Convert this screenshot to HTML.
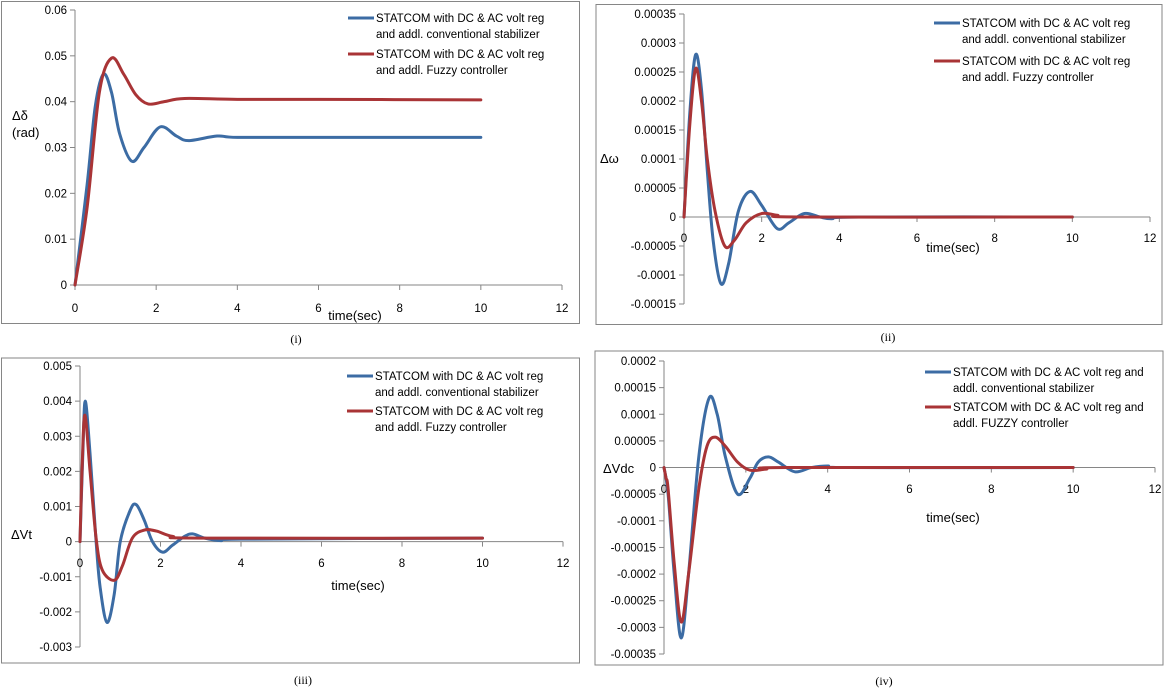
<!DOCTYPE html>
<html><head><meta charset="utf-8">
<style>
html,body{margin:0;padding:0;background:#fff;}
svg{display:block;font-family:"Liberation Sans",sans-serif;}
</style></head>
<body>
<svg id="fig" width="1170" height="696" viewBox="0 0 1170 696"></svg>
<script>
// ---- data ----
const xTicks = [0,2,4,6,8,10,12];
const p1Time = [0,0.3,0.5,0.7,0.9,1.1,1.4,1.7,2.1,2.5,2.8,3.5,4,6,10];
const p1Blue = [0,0.022,0.039,0.046,0.042,0.033,0.027,0.030,0.0345,0.0325,0.0315,0.0325,0.0322,0.0322,0.0322];
const p1RedTime = [0,0.3,0.6,0.9,1.2,1.5,1.8,2.2,2.7,4,6,10];
const p1Red = [0,0.017,0.042,0.0495,0.046,0.0415,0.0395,0.0400,0.0407,0.0405,0.0405,0.0404];
const p1YTicks = [0,0.01,0.02,0.03,0.04,0.05,0.06];

const p2Time = [0,0.15,0.3,0.45,0.6,0.75,0.95,1.15,1.4,1.7,2.0,2.4,2.7,3.1,3.5,3.8,4.5,10];
const p2Blue = [0,0.00018,0.00028,0.00022,0.00008,-0.00004,-0.000115,-0.00008,0.00001,0.000044,0.00002,-0.00002,-0.00001,0.000006,0,-0.000003,0,0];
const p2RedTime = [0,0.15,0.3,0.45,0.6,0.8,1.05,1.3,1.6,2.0,2.4,3,10];
const p2Red = [0,0.00016,0.000256,0.0002,0.0001,0.00001,-0.00005,-0.00004,-0.00001,0.000006,0.000003,0,0];
const p2YTicks = [-0.00015,-0.0001,-0.00005,0,0.00005,0.0001,0.00015,0.0002,0.00025,0.0003,0.00035];
const p2YLabels = ["-0.00015","-0.0001","-0.00005","0","0.00005","0.0001","0.00015","0.0002","0.00025","0.0003","0.00035"];

const p3Time = [0,0.07,0.13,0.25,0.4,0.5,0.67,0.85,1.0,1.25,1.4,1.6,1.8,2.05,2.3,2.6,2.8,3.1,3.5,4,10];
const p3Blue = [0,0.0025,0.004,0.0025,0,-0.0013,-0.0023,-0.0015,0,0.0009,0.00105,0.0006,0,-0.0003,-0.0001,0.00015,0.00022,0.0001,0.00003,0.00007,0.0001];
const p3RedTime = [0,0.05,0.12,0.25,0.4,0.55,0.85,1.05,1.3,1.6,1.9,2.3,3,10];
const p3Red = [0,0.002,0.0036,0.002,0.0001,-0.0008,-0.0011,-0.0007,0.0001,0.00033,0.0003,0.00015,0.0001,0.0001];
const p3YTicks = [-0.003,-0.002,-0.001,0,0.001,0.002,0.003,0.004,0.005];
const p3YLabels = ["-0.003","-0.002","-0.001","0","0.001","0.002","0.003","0.004","0.005"];

const p4Time = [0,0.1,0.25,0.42,0.6,0.85,1.1,1.3,1.5,1.8,2.1,2.3,2.55,2.8,3.2,3.6,4,4.5,10];
const p4Blue = [0,-0.00005,-0.0002,-0.00032,-0.0002,0.00002,0.00013,0.0001,0.00002,-0.00005,-0.00002,0.00001,0.00002,0.00001,-0.000008,0,0.000003,0,0];
const p4RedTime = [0,0.05,0.1,0.25,0.42,0.6,0.85,1.05,1.25,1.5,1.8,2.1,2.5,3,10];
const p4Red = [0,-0.00002,-0.00004,-0.00018,-0.00029,-0.0002,-0.00004,0.00004,0.000057,0.00004,0.00001,-0.000005,-0.000003,0,0];
const p4YTicks = [-0.00035,-0.0003,-0.00025,-0.0002,-0.00015,-0.0001,-0.00005,0,0.00005,0.0001,0.00015,0.0002];
const p4YLabels = ["-0.00035","-0.0003","-0.00025","-0.0002","-0.00015","-0.0001","-0.00005","0","0.00005","0.0001","0.00015","0.0002"];

const NS="http://www.w3.org/2000/svg";
const svg=document.getElementById('fig');
const BLUE='#3c6ca4', RED='#a93436';
function mk(tag,attrs,parent,text){const e=document.createElementNS(NS,tag);for(const k in attrs)e.setAttribute(k,attrs[k]);if(text!==undefined)e.textContent=text;(parent||svg).appendChild(e);return e;}
function smooth(pts){let d=`M${pts[0][0]},${pts[0][1]}`;for(let i=0;i<pts.length-1;i++){const p0=pts[Math.max(0,i-1)],p1=pts[i],p2=pts[i+1],p3=pts[Math.min(pts.length-1,i+2)];const c1x=p1[0]+(p2[0]-p0[0])/6,c1y=p1[1]+(p2[1]-p0[1])/6,c2x=p2[0]-(p3[0]-p1[0])/6,c2y=p2[1]-(p3[1]-p1[1])/6;d+=` C${c1x.toFixed(2)},${c1y.toFixed(2)} ${c2x.toFixed(2)},${c2y.toFixed(2)} ${p2[0]},${p2[1]}`;}return d;}

function panel(o){
  const g=mk('g',{});
  
  
  const fr=mk('rect',{x:o.fx,y:o.fy,width:o.fw,height:o.fh,fill:'#fff',stroke:'#868686','stroke-width':1},g);
  
  const yMin=o.yt[0],yMax=o.yt[o.yt.length-1];
  const sx=t=>o.x0+(o.x12-o.x0)*t/12;
  const sy=v=>o.yTop+(o.yBot-o.yTop)*(yMax-v)/(yMax-yMin);
  const zy=sy(0);
  const ya=mk('line',{x1:o.x0,y1:o.yTop,x2:o.x0,y2:o.yBot,stroke:'#868686'},g);
  
  o.yt.forEach((v,i)=>{
    const y=sy(v);
    mk('line',{x1:o.x0-5,y1:y,x2:o.x0,y2:y,stroke:'#868686'},g);
    const t=mk('text',{x:o.x0-8,y:y+4,'text-anchor':'end','font-size':11.5,fill:'#000'},g,o.yl[i]);
    
  });
  const xa=mk('line',{x1:o.x0,y1:zy,x2:o.x12,y2:zy,stroke:'#868686'},g);
  
  xTicks.forEach(v=>{
    const x=sx(v);
    mk('line',{x1:x,y1:zy,x2:x,y2:zy+5,stroke:'#868686'},g);
    const t=mk('text',{x:x,y:o.xly,'text-anchor':'middle','font-size':11.5,fill:'#000'},g,String(v));
    
  });
  const series=[[o.bt,o.b,BLUE,'series-conventional-stabilizer'],[o.rt,o.r,RED,'series-fuzzy-controller']];
  series.forEach(s=>{
    const pts=s[0].map((t,i)=>[+sx(t).toFixed(2),+sy(s[1][i]).toFixed(2)]);
    const p=mk('path',{d:smooth(pts),fill:'none',stroke:s[2],'stroke-width':3,'stroke-linejoin':'round','stroke-linecap':'round'},g);
    
  });
  const lg=mk('g',{},g);
  
  [[o.leg[0],BLUE],[o.leg[1],RED]].forEach((it,k)=>{
    const y=o.ly[k];
    mk('line',{x1:o.lx,y1:y,x2:o.lx+26,y2:y,stroke:it[1],'stroke-width':3},lg);
    it[0].forEach((ln,j)=>{
      const t=mk('text',{x:o.lx+28,y:y+4+j*16,'font-size':11.5,fill:'#000'},lg,ln);
      
    });
  });
  o.ytitle.forEach((ln,j)=>{
    const t=mk('text',{x:o.ytx,y:o.yty+j*17,'font-size':13,fill:'#000'},g,ln);
    
  });
  const xt=mk('text',{x:o.xtx,y:o.xty,'text-anchor':'middle','font-size':13,fill:'#000'},g,'time(sec)');
  
  const cp=mk('text',{x:o.cx,y:o.cy,'text-anchor':'middle','font-size':12,'font-family':'Liberation Serif, serif',fill:'#000'},g,o.cap);
  
}
const L1=[["STATCOM with DC & AC volt reg","and addl. conventional stabilizer"],["STATCOM with DC & AC volt reg","and addl. Fuzzy controller"]];
const L4=[["STATCOM with  DC & AC volt reg and","addl. conventional stabilizer"],["STATCOM with  DC & AC volt reg and","addl. FUZZY  controller"]];
panel({name:'panel-delta',fx:1.5,fy:1.5,fw:578,fh:322,x0:75,x12:562,yTop:10,yBot:285,yt:p1YTicks,yl:["0","0.01","0.02","0.03","0.04","0.05","0.06"],
  bt:p1Time,b:p1Blue,rt:p1RedTime,r:p1Red,xly:312,lx:348,ly:[18,54],leg:L1,ytitle:["Δδ","(rad)"],ytx:12,yty:120,xtx:355,xty:320,cap:'(i)',cx:296,cy:343});
panel({name:'panel-omega',fx:596,fy:4.5,fw:566,fh:320,x0:684,x12:1150,yTop:14,yBot:304,yt:p2YTicks,yl:p2YLabels,
  bt:p2Time,b:p2Blue,rt:p2RedTime,r:p2Red,xly:242,lx:934,ly:[23,61],leg:L1,ytitle:["Δω"],ytx:600,yty:163,xtx:953,xty:252,cap:'(ii)',cx:888,cy:341});
panel({name:'panel-vt',fx:1.5,fy:358,fw:578,fh:305,x0:80,x12:563,yTop:366,yBot:647,yt:p3YTicks,yl:p3YLabels,
  bt:p3Time,b:p3Blue,rt:p3RedTime,r:p3Red,xly:567,lx:347,ly:[376,411],leg:L1,ytitle:["ΔVt"],ytx:11,yty:539,xtx:358,xty:590,cap:'(iii)',cx:303,cy:684});
panel({name:'panel-vdc',fx:595,fy:351,fw:568,fh:314,x0:664,x12:1155,yTop:361,yBot:654,yt:p4YTicks,yl:p4YLabels,
  bt:p4Time,b:p4Blue,rt:p4RedTime,r:p4Red,xly:493,lx:925,ly:[372,407],leg:L4,ytitle:["ΔVdc"],ytx:603,yty:473,xtx:953,xty:522,cap:'(iv)',cx:884,cy:685});
</script>
</body></html>
